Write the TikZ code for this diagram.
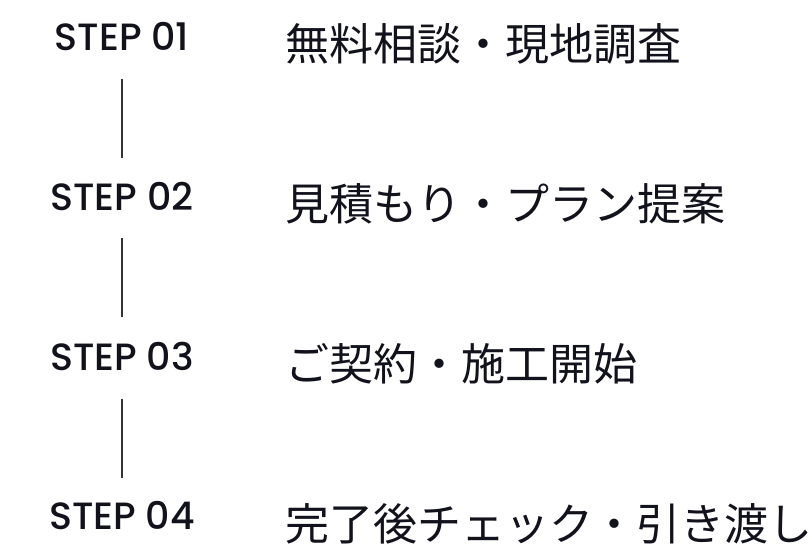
\documentclass[tikz,border=0pt]{standalone}
\usepackage{fontspec}
\setmainfont{Poppins}[UprightFont=* Medium]
\newfontfamily\jpfont{Noto Sans CJK JP}
\definecolor{ink}{HTML}{12121C}
\definecolor{linec}{HTML}{333333}
\begin{document}
\begin{tikzpicture}[x=1pt,y=-1pt,
  steplabel/.style={inner sep=0pt,anchor=center,text=ink,font=\fontsize{38}{40}\selectfont},
  jplabel/.style={inner sep=0pt,anchor=base west,text=ink,font=\jpfont\fontsize{44}{46}\selectfont},
  conn/.style={draw=linec,line width=1.6pt}]
\useasboundingbox (0,0) rectangle (812,560);
\node[steplabel] (s1) at (122,37) {STEP 01};
\node[steplabel] (s2) at (122,196) {STEP 02};
\node[steplabel] (s3) at (122,356) {STEP 03};
\node[steplabel] (s4) at (122,516) {STEP 04};
\node[jplabel] (t1) at (285,60) {無料相談・現地調査};
\node[jplabel] (t2) at (285,220) {見積もり・プラン提案};
\node[jplabel] (t3) at (285,380) {ご契約・施工開始};
\node[jplabel] (t4) at (285,540) {完了後チェック・引き渡し};
\draw[conn] ([yshift=-28pt]s1.south) -- ([yshift=24pt]s2.north);
\draw[conn] ([yshift=-28pt]s2.south) -- ([yshift=24pt]s3.north);
\draw[conn] ([yshift=-28pt]s3.south) -- ([yshift=24pt]s4.north);
\end{tikzpicture}
\end{document}
